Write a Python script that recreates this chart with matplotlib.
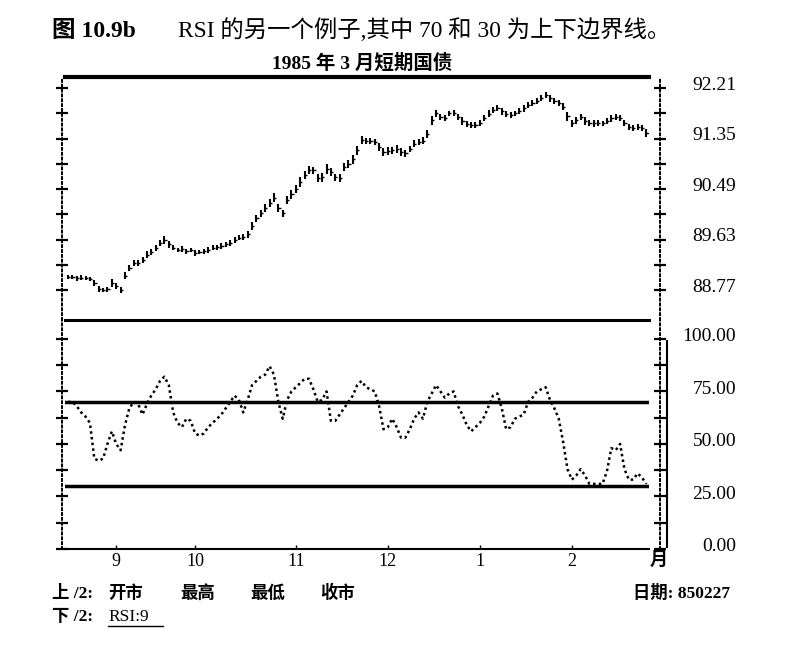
import matplotlib
matplotlib.use('Agg')
import matplotlib.pyplot as plt
import matplotlib.transforms as mtransforms
from matplotlib.lines import Line2D
import numpy as np

plt.rcParams['font.family'] = ['Liberation Serif', 'Noto Sans CJK SC']

# daily closes of the March 1985 T-bill future
closes = [88.99, 88.99, 88.97, 88.98, 88.97, 88.96, 88.89, 88.79, 88.77, 88.78,
          88.89, 88.84, 88.77, 89.01, 89.15, 89.23, 89.23, 89.28, 89.37, 89.42,
          89.49, 89.57, 89.62, 89.55, 89.49, 89.45, 89.47, 89.43, 89.45, 89.40,
          89.42, 89.43, 89.45, 89.49, 89.50, 89.52, 89.55, 89.57, 89.62, 89.66,
          89.67, 89.72, 89.86, 89.99, 90.08, 90.17, 90.25, 90.34, 90.17, 90.08,
          90.30, 90.40, 90.49, 90.61, 90.73, 90.81, 90.81, 90.68, 90.69, 90.83,
          90.78, 90.69, 90.68, 90.87, 90.92, 91.00, 91.15, 91.32, 91.31, 91.31,
          91.29, 91.21, 91.12, 91.14, 91.15, 91.17, 91.12, 91.10, 91.17, 91.26,
          91.29, 91.31, 91.43, 91.66, 91.78, 91.72, 91.70, 91.78, 91.78, 91.72,
          91.65, 91.60, 91.58, 91.58, 91.61, 91.70, 91.77, 91.84, 91.87, 91.82,
          91.77, 91.75, 91.78, 91.82, 91.87, 91.92, 91.95, 91.99, 92.04, 92.09,
          92.04, 91.99, 91.95, 91.89, 91.73, 91.61, 91.66, 91.72, 91.65, 91.61,
          91.61, 91.61, 91.61, 91.65, 91.70, 91.72, 91.70, 91.61, 91.55, 91.53,
          91.55, 91.53, 91.44]

# high - low of each bar
ranges = [0.08, 0.07, 0.09, 0.08, 0.07, 0.08, 0.10, 0.09, 0.08, 0.10,
          0.12, 0.09, 0.10, 0.12, 0.11, 0.10, 0.09, 0.11, 0.12, 0.10,
          0.11, 0.10, 0.13, 0.12, 0.09, 0.08, 0.10, 0.09, 0.08, 0.09,
          0.08, 0.09, 0.10, 0.08, 0.09, 0.10, 0.09, 0.11, 0.10, 0.09,
          0.10, 0.12, 0.14, 0.13, 0.12, 0.14, 0.13, 0.15, 0.14, 0.12,
          0.13, 0.15, 0.14, 0.16, 0.15, 0.14, 0.12, 0.15, 0.16, 0.17,
          0.14, 0.13, 0.15, 0.14, 0.13, 0.15, 0.16, 0.14, 0.10, 0.09,
          0.10, 0.13, 0.14, 0.13, 0.12, 0.14, 0.13, 0.12, 0.11, 0.12,
          0.11, 0.12, 0.15, 0.16, 0.12, 0.10, 0.11, 0.09, 0.10, 0.11,
          0.12, 0.10, 0.11, 0.09, 0.10, 0.11, 0.12, 0.10, 0.11, 0.12,
          0.10, 0.11, 0.09, 0.10, 0.12, 0.11, 0.10, 0.09, 0.11, 0.10,
          0.12, 0.11, 0.10, 0.12, 0.15, 0.13, 0.12, 0.11, 0.12, 0.10,
          0.11, 0.10, 0.09, 0.11, 0.12, 0.10, 0.11, 0.10, 0.09, 0.10,
          0.09, 0.10, 0.14]

# 9-day RSI
rsi = [70, 70, 68, 65, 63, 60, 43, 42, 43, 50,
       56, 50, 47, 59, 67, 70, 69, 64, 69, 73,
       76, 80, 82, 78, 65, 60, 58, 62, 61, 55,
       54, 55, 58, 60, 62, 64, 67, 70, 73, 71,
       65, 71, 78, 80, 82, 83, 87, 83, 70, 62,
       71, 75, 77, 79, 81, 81, 76, 70, 71, 75,
       61, 61, 64, 67, 70, 73, 78, 80, 77, 76,
       75, 68, 57, 58, 62, 58, 53, 53, 57, 62,
       65, 62, 70, 74, 78, 75, 72, 74, 75, 68,
       64, 59, 56, 58, 60, 63, 68, 73, 74, 67,
       57, 58, 62, 63, 64, 70, 72, 75, 76, 77,
       71, 67, 62, 51, 38, 33, 35, 38, 35, 31,
       31, 31, 31, 37, 48, 47, 50, 38, 33, 33,
       36, 34, 31]

rsi_upper = 70
rsi_lower = 30

month_names = ['9', '10', '11', '12', '1', '2']
month_start = [11, 29, 52, 73, 94, 115]   # trading-day index

price_ticks = [88.77, 89.20, 89.63, 90.06, 90.49, 90.92, 91.35, 91.78, 92.21]
price_labels = [92.21, 91.35, 90.49, 89.63, 88.77]
rsi_ticks = [0, 12.5, 25, 37.5, 50, 62.5, 75, 87.5, 100]
rsi_labels = [100, 75, 50, 25, 0]

closes = np.array(closes)
ranges = np.array(ranges)
days = np.arange(len(closes))

fig = plt.figure(figsize=(8.06, 6.48), dpi=100)
ax2 = fig.add_axes([0.0806, 0.1528, 0.7246, 0.3534])
ax1 = fig.add_axes([0.0806, 0.5062, 0.7246, 0.375])
ax1.patch.set_visible(False)
ax2.patch.set_visible(False)

# upper panel: bar chart
ax1.vlines(days, closes - ranges / 2, closes + ranges / 2, color='black', lw=1.5)
ax1.hlines(closes, days, days + 0.5, color='black', lw=1.0)
ax1.set_xlim(-0.7, 132.6)
ax1.set_ylim(88.26, 92.40)

# lower panel: RSI
ax2.plot(days, rsi, color='black', lw=1.8, ls=(0, (1, 1.3)))
ax2.axhline(rsi_upper, color='black', lw=2.5)
ax2.axhline(rsi_lower, color='black', lw=2.5)
ax2.set_xlim(-0.7, 132.6)
ax2.set_ylim(0, 109)

for ax, ticks in [(ax1, price_ticks), (ax2, rsi_ticks)]:
    ax.set_yticks(ticks)
    ax.tick_params(axis='y', left=True, right=True, direction='inout', length=8,
                   width=1.6, labelleft=False, labelright=False)
    for side in ['left', 'right']:
        ax.spines[side].set_linestyle((0, (1, 1.5)))
        ax.spines[side].set_linewidth(1.4)
    ax.spines['left'].set_position(('outward', 2.2))
    ax.spines['right'].set_position(('outward', 8))

ax1.spines['top'].set_linewidth(3)
ax1.spines['bottom'].set_linewidth(2.2)
ax1.set_xticks([])
ax2.spines['top'].set_visible(False)
ax2.spines['bottom'].set_linewidth(1.5)

ax2.set_xticks(month_start)
ax2.set_xticklabels(month_names)
ax2.tick_params(axis='x', direction='in', length=3, width=1, pad=3, labelsize=13)

# value labels on the right
tr1 = mtransforms.blended_transform_factory(ax1.transAxes, ax1.transData)
tr2 = mtransforms.blended_transform_factory(ax2.transAxes, ax2.transData)
for v in price_labels:
    ax1.text(1.149, v + 0.05, f'{v:.2f}', transform=tr1, ha='right', va='center',
             fontsize=14)
for v in rsi_labels:
    ax2.text(1.149, v + 1, f'{v:.2f}', transform=tr2, ha='right', va='center',
             fontsize=14)
ax2.plot([1.031, 1.031], [1, 99], transform=tr2, color='black', lw=1.5, clip_on=False)

fig.text(659 / 806, 1 - 560 / 648, '月', ha='center', va='center', fontsize=13,
         fontweight='bold')

# titles
fig.text(52 / 806, 1 - 37 / 648, '图 10.9b', fontsize=17, fontweight='bold',
         va='baseline')
fig.text(178 / 806, 1 - 37 / 648, 'RSI 的另一个例子,其中 70 和 30 为上下边界线。',
         fontsize=16.8, va='baseline')
fig.text(362 / 806, 1 - 63 / 648, '1985 年 3 月短期国债', ha='center', va='center',
         fontsize=14, fontweight='bold')

# footer
y1 = 1 - 598 / 648
y2 = 1 - 621 / 648
fig.text(52 / 806, y1, '上 /2:', fontsize=12.5, fontweight='bold', va='baseline')
for x, s in [(108, '开市'), (180, '最高'), (250, '最低'), (320, '收市')]:
    fig.text(x / 806, y1, s, fontsize=12.5, fontweight='bold', va='baseline')
fig.text(730 / 806, y1, '日期: 850227', fontsize=12.5, fontweight='bold',
         va='baseline', ha='right')
fig.text(52 / 806, y2, '下 /2:', fontsize=12.5, fontweight='bold', va='baseline')
fig.text(108 / 806, y2, 'RSI:9', fontsize=12.5, va='baseline')
fig.add_artist(Line2D([108 / 806, 163 / 806], [1 - 626 / 648, 1 - 626 / 648],
                      color='black', lw=1.0))

fig.savefig('out.png', dpi=100)
